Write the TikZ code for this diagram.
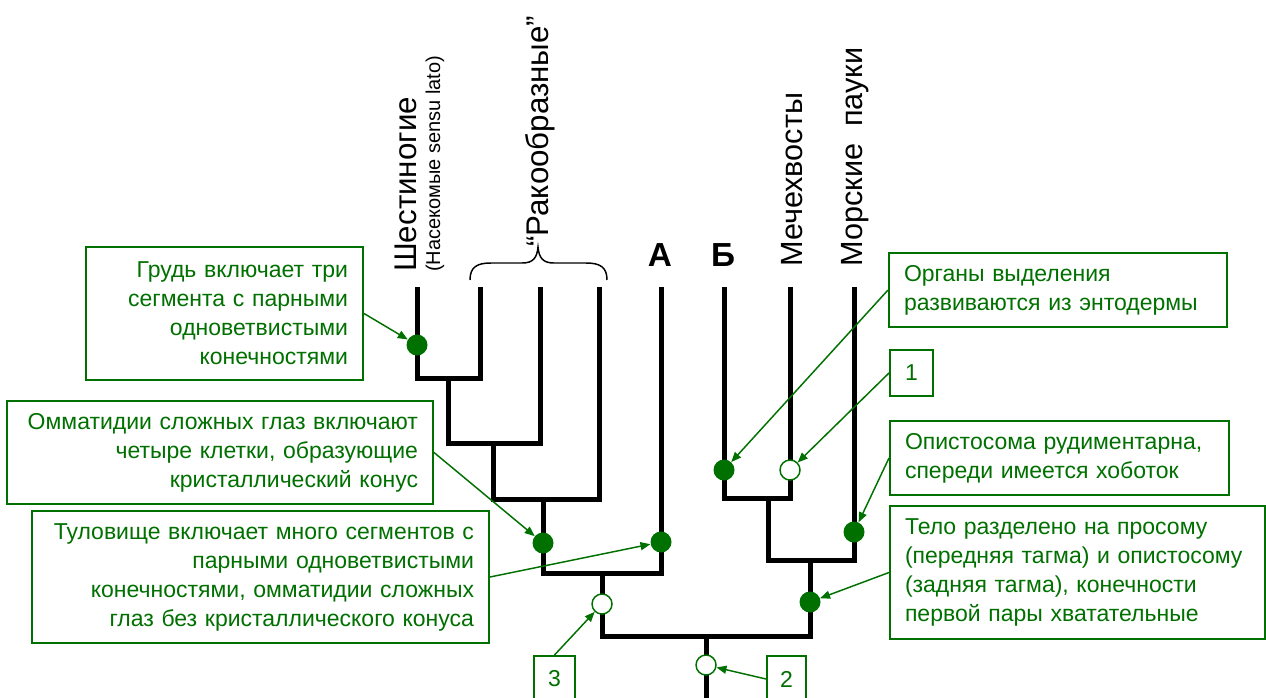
\documentclass[tikz,border=0pt]{standalone}
\usepackage{fontspec}
\setmainfont{Liberation Sans}
\usetikzlibrary{arrows.meta}
\definecolor{grn}{RGB}{0,112,0}

\begin{document}
\begin{tikzpicture}[x=0.75pt,y=-0.75pt]

      \tikzset{branch/.style={line width=3.75pt, line join=miter},
               full/.style={circle, inner sep=0pt, minimum size=15.75pt, fill=grn},
               empty/.style={circle, inner sep=0pt, minimum size=15pt, draw=grn, line width=1.1pt, fill=white},
               note/.style={draw=grn, line width=1.5pt, fill=white, text=grn, font=\fontsize{17.25}{21.75}\selectfont, inner xsep=11.25pt, inner ysep=0pt},
               num/.style={note, inner sep=0pt, minimum height=34.5pt},
               pointer/.style={draw=grn, line width=1.1pt, -{Triangle[length=7.5pt, width=6pt]}},
               taxon/.style={rotate=90, anchor=west, inner sep=0pt, font=\fontsize{23.5}{28}\selectfont}}
      \useasboundingbox (0,0) rectangle (1266,697);
% Tips
      \coordinate (hex) at (417,287);
      \coordinate (cr1) at (480,287);
      \coordinate (cr2) at (540,287);
      \coordinate (cr3) at (599,287);
      \coordinate (ta) at (661,287);
      \coordinate (tb) at (724,287);
      \coordinate (xiph) at (790,287);
      \coordinate (sea) at (854,287);
% Forks
      \coordinate (f1) at (448,378);
      \coordinate (f2) at (493,443);
      \coordinate (f3) at (543,499);
      \coordinate (f4) at (602,573);
      \coordinate (f5) at (768,498);
      \coordinate (f6) at (810,560);
      \coordinate (f0) at (706,636);
      \coordinate (root) at (706,702);
% Branches
      \draw[branch] (hex) |- (f1) -| (cr1);
      \draw[branch] (f1) |- (f2) -| (cr2);
      \draw[branch] (f2) |- (f3) -| (cr3);
      \draw[branch] (f3) |- (f4) -| (ta);
      \draw[branch] (tb) |- (f5) -| (xiph);
      \draw[branch] (f5) |- (f6) -| (sea);
      \draw[branch] (f4) |- (f0) -| (f6);
      \draw[branch] (f0) -- (root);
% Taxa
      \node[taxon] (lhex) at (406,272) {Шестиногие};
      \node[taxon, font=\fontsize{15}{18}\selectfont] (lins) at (435,272) {(Насекомые sensu lato)};
      \node[taxon] (lcr) at (540,247) {“Ракообразные”};
      \node[taxon, font=\fontsize{23}{28}\selectfont] (lxiph) at (792,267) {Мечехвосты};
      \node[taxon, font=\fontsize{23}{28}\selectfont] (lsea) at (855,267) {Морские~ пауки};
      \node[font=\fontsize{25}{30}\selectfont\bfseries] (la) at (660,255) {А};
      \node[font=\fontsize{25}{30}\selectfont\bfseries] (lb) at (723,255) {Б};
      \draw[line width=1.1pt] (470,280) .. controls (470,267) and (477,263) .. (491,263) -- (522,263) .. controls (533,263) and (537,258) .. (538,247) .. controls (539,258) and (543,263) .. (554,263) -- (586,263) .. controls (600,263) and (607,267) .. (607,280);
% Marks
      \node[full] (m1) at (417,345) {};
      \node[full] (m2) at (543,543) {};
      \node[full] (m3) at (661,542) {};
      \node[empty] (m4) at (602,604) {};
      \node[empty] (m5) at (706,665) {};
      \node[full] (m6) at (724,470) {};
      \node[empty] (m7) at (790,470) {};
      \node[full] (m8) at (854,532) {};
      \node[full] (m9) at (810,602) {};
% Notes
      \node[note, text width=185.25pt, align=right, minimum height=99.75pt] (n1) at (224.5,313.5) {Грудь включает три\\ сегмента с парными\\ одноветвистыми\\ конечностями};
      \node[note, text width=297pt, align=right, minimum height=77.25pt] (n2) at (220,452.5) {Омматидии сложных глаз включают\\ четыре клетки, образующие\\ кристаллический конус};
      \node[note, text width=320.25pt, align=right, minimum height=99pt] (n3) at (260.5,577) {Туловище включает много сегментов с\\ парными одноветвистыми\\ конечностями, омматидии сложных\\ глаз без кристаллического конуса};
      \node[note, text width=231pt, align=left, minimum height=55.5pt] (n4) at (1058,290) {Органы выделения\\ развиваются из энтодермы};
      \node[note, text width=231.75pt, align=left, minimum height=55.5pt] (n5) at (1059.5,458) {Опистосома рудиментарна,\\ спереди имеется хоботок};
      \node[note, text width=258.75pt, align=left, minimum height=99.75pt] (n6) at (1077.5,572.5) {Тело разделено на просому\\ (передняя тагма) и опистосому\\ (задняя тагма), конечности\\ первой пары хватательные};
      \node[num, minimum width=32.25pt] (k1) at (911.5,373) {1};
      \node[num, minimum width=29.25pt] (k2) at (786.5,679) {2};
      \node[num, minimum width=30.75pt] (k3) at (554.5,679) {3};
%Arrows
      \draw[pointer] (n1.east) -- (m1);
      \draw[pointer] (n2.east) -- (m2);
      \draw[pointer] (n3.east) -- (m3);
      \draw[pointer] (n4.west) -- (m6);
      \draw[pointer] (k1.west) -- (m7);
      \draw[pointer] (n5.west) -- (m8);
      \draw[pointer] (n6.west) -- (m9);
      \draw[pointer] (k3.north) -- (m4);
      \draw[pointer] (k2.west) -- (m5);

\end{tikzpicture}
\end{document}
